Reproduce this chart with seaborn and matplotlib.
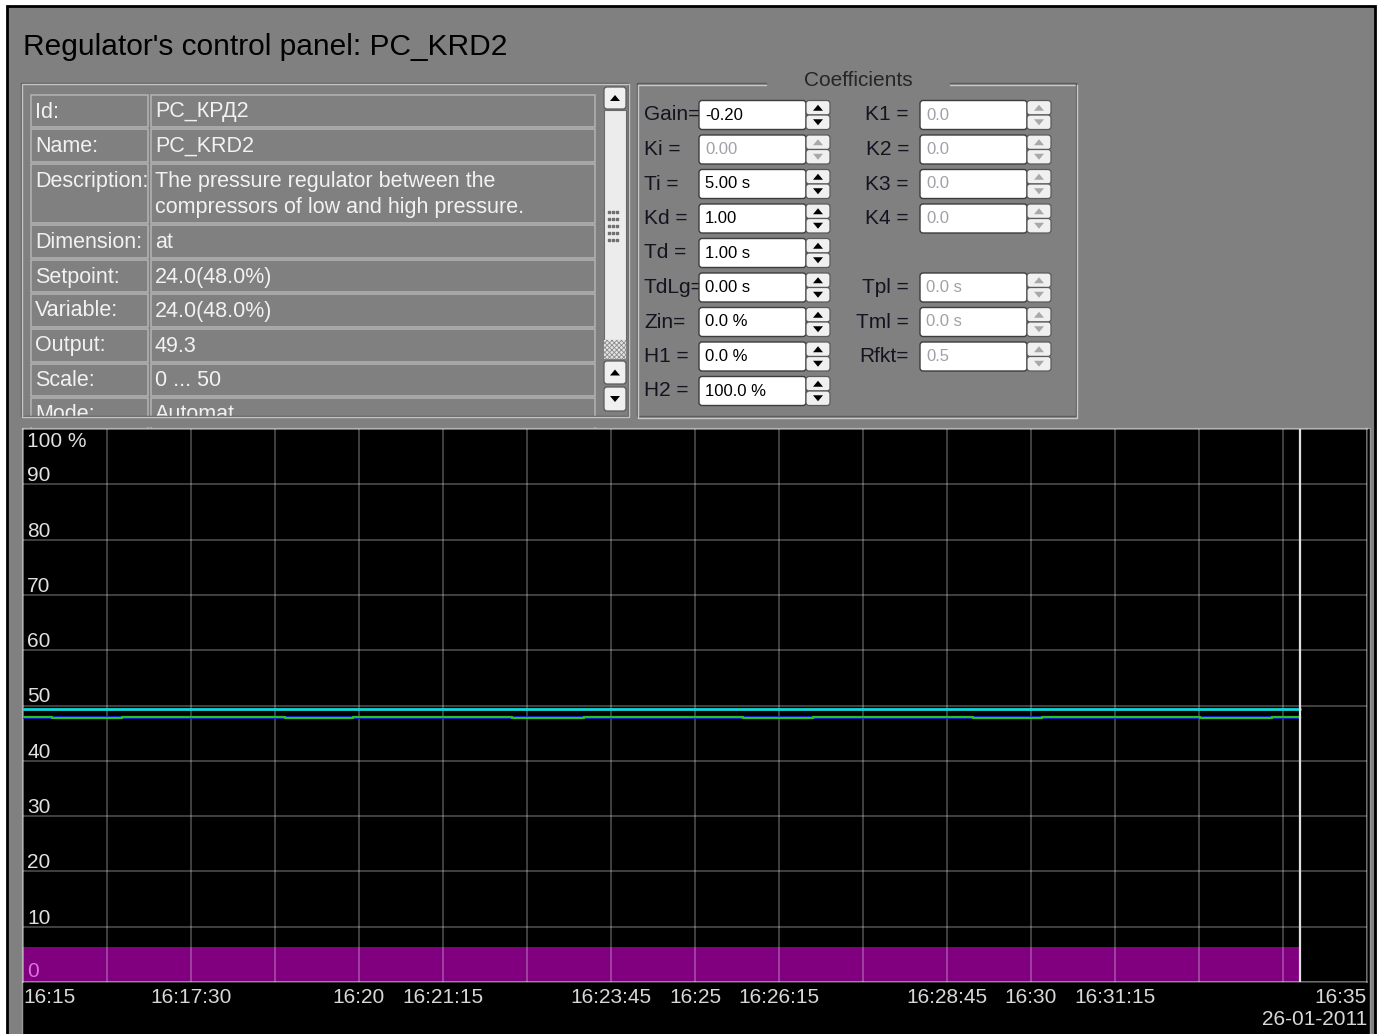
import numpy as np
import pandas as pd
import seaborn as sns
import matplotlib.pyplot as plt
from matplotlib.patches import Rectangle, FancyBboxPatch, Polygon

W, H = 1382, 1034

# ---- chart data ----
day = "2011-01-26 "
x_start, x_end = "16:15:00", "16:35:00"
now_time = "16:34:00"

output_times = ["16:15:00", "16:34:00"]
output_values = [49.3, 49.3]

setpoint_times = ["16:15:00", "16:34:00"]
setpoint_values = [48.0, 48.0]

variable_times = ["16:15:00", "16:15:26", "16:16:28", "16:18:54", "16:19:55",
                  "16:22:17", "16:23:21", "16:25:43", "16:26:45", "16:29:08",
                  "16:30:10", "16:32:31", "16:33:35", "16:34:00"]
variable_values = [48.0, 47.7, 48.0, 47.7, 48.0, 47.7, 48.0, 47.7, 48.0, 47.7,
                   48.0, 47.7, 48.0, 48.0]

band_times = ["16:15:00", "16:34:00"]
band_values = [6.3, 6.3]

tick_times = ["16:15:00", "16:17:30", "16:20:00", "16:21:15", "16:23:45", "16:25:00",
              "16:26:15", "16:28:45", "16:30:00", "16:31:15", "16:35:00"]
tick_labels = ["16:15", "16:17:30", "16:20", "16:21:15", "16:23:45", "16:25",
               "16:26:15", "16:28:45", "16:30", "16:31:15", "16:35\n26-01-2011"]
y_ticks = [0, 10, 20, 30, 40, 50, 60, 70, 80, 90, 100]
y_labels = ["0", "10", "20", "30", "40", "50", "60", "70", "80", "90", "100 %"]

# ---- panel texts ----
title = "Regulator's control panel: PC_KRD2"
info_labels = ["Id:", "Name:", "Description:", "Dimension:", "Setpoint:",
               "Variable:", "Output:", "Scale:", "Mode:"]
info_values = ["PC_КРД2", "PC_KRD2",
               "The pressure regulator between the\ncompressors of low and high pressure.",
               "at", "24.0(48.0%)", "24.0(48.0%)", "49.3", "0 ... 50", "Automat"]

coef_left_labels = ["Gain=", "Ki =", "Ti =", "Kd =", "Td =", "TdLg=", "Zin=", "H1 =", "H2 ="]
coef_left_values = ["-0.20", "0.00", "5.00 s", "1.00", "1.00 s", "0.00 s", "0.0 %", "0.0 %", "100.0 %"]
coef_left_enabled = [True, False, True, True, True, True, True, True, True]
coef_right_labels = ["K1 =", "K2 =", "K3 =", "K4 =", None, "Tpl =", "Tml =", "Rfkt="]
coef_right_values = ["0.0", "0.0", "0.0", "0.0", None, "0.0 s", "0.0 s", "0.5"]

sns.set_style("dark")
plt.rcParams["font.family"] = ["Liberation Sans", "DejaVu Sans"]
plt.rcParams["hatch.linewidth"] = 0.6

fig = plt.figure(figsize=(W / 100, H / 100), dpi=100, facecolor="white")
ui = fig.add_axes([0, 0, 1, 1])
ui.set_xlim(0, W)
ui.set_ylim(H, 0)
ui.axis("off")

# window background
ui.add_patch(Rectangle((7, 6), 1368, 1032, fc="#808080", ec="black", lw=2))
ui.text(23, 55, title, fontsize=21.5, color="black", va="baseline")

# ---- info group ----
rows = [94, 128, 163, 224, 259, 293, 328, 363, 397, 432]
for i, (lab, val) in enumerate(zip(info_labels, info_values)):
    top, bot = rows[i], rows[i + 1]
    ui.add_patch(Rectangle((31, top + 1), 117, bot - top - 2, fill=False, ec="#b4b4b4", lw=1.1))
    ui.add_patch(Rectangle((151, top + 1), 444, bot - top - 2, fill=False, ec="#b4b4b4", lw=1.1))
    ui.text(35, top + 18, lab, fontsize=15.5, color="#f2f2f2", va="center")
    for k, line in enumerate(val.split("\n")):
        ui.text(155, top + 18 + 27 * k, line, fontsize=15.5, color="#f2f2f2", va="center")
# cover the clipped part of the last row
ui.add_patch(Rectangle((23, 416), 606, 11, fc="#808080", ec="none", zorder=3))
ui.add_patch(Rectangle((21, 83), 607, 333, fill=False, ec="#5c5c5c", lw=1, zorder=4))
ui.add_patch(Rectangle((22, 84), 607, 333, fill=False, ec="#c4c4c4", lw=1, zorder=4))


def tri(cx, cy, up, color, s=5):
    d = -1 if up else 1
    ui.add_patch(Polygon([(cx - s, cy - d * s * 0.6), (cx + s, cy - d * s * 0.6), (cx, cy + d * s * 0.6)],
                         closed=True, fc=color, ec="none", zorder=6))


def button(x, y, w, h, up, color="black"):
    ui.add_patch(FancyBboxPatch((x, y), w, h, boxstyle="round,pad=0,rounding_size=3",
                                fc="#f0f0f0", ec="#5a5a5a", lw=0.9, zorder=5))
    tri(x + w / 2, y + h / 2, up, color)


# scrollbar
ui.add_patch(Rectangle((604, 110), 22, 230, fc="#ececec", ec="#6a6a6a", lw=0.8, zorder=4))
ui.add_patch(Rectangle((604, 340), 22, 19, fc="#e4e4e4", ec="#8c8c8c", hatch="xxxxxxx", lw=0, zorder=4))
button(604, 87, 22, 22, True)
button(604, 361, 22, 23, True)
button(604, 387, 22, 24, False)
gx, gy = np.meshgrid([609.5, 613.5, 617.5], [212, 219, 226, 233, 240])
ui.scatter(gx.ravel(), gy.ravel(), s=2, marker="s", color="#707070", zorder=6)

# ---- coefficients group ----
ui.plot([637, 766], [83, 83], color="#5c5c5c", lw=1)
ui.plot([950, 1076], [83, 83], color="#5c5c5c", lw=1)
ui.plot([638, 766], [84.5, 84.5], color="#c8c8c8", lw=1)
ui.plot([950, 1075], [84.5, 84.5], color="#c8c8c8", lw=1)
ui.plot([637, 637, 1076, 1076], [83, 416, 416, 83], color="#5c5c5c", lw=1)
ui.plot([638.5, 638.5, 1077.5, 1077.5], [84.5, 417.5, 417.5, 84.5], color="#c8c8c8", lw=1)
ui.text(858, 80, "Coefficients", fontsize=15, color="#262626", ha="center", va="center")


def spinbox(lx, bx, yc, label, value, enabled, ha="left"):
    ui.text(lx, yc, label, fontsize=15, color="#141420", va="center", ha=ha, zorder=4)
    ui.add_patch(FancyBboxPatch((bx, yc - 14.5), 107, 29, boxstyle="round,pad=0,rounding_size=3",
                                fc="white", ec="#3c3c3c", lw=1, zorder=5))
    ui.text(bx + 6, yc, value, fontsize=12, va="center", zorder=6,
            color="black" if enabled else "#a0a0a8")
    c = "black" if enabled else "#a8a8a8"
    button(bx + 107, yc - 14.5, 24, 14.5, True, c)
    button(bx + 107, yc, 24, 14.5, False, c)


for i, (lab, val, en) in enumerate(zip(coef_left_labels, coef_left_values, coef_left_enabled)):
    spinbox(644, 699, 115 + 34.5 * i, lab, val, en)
for i, (lab, val) in enumerate(zip(coef_right_labels, coef_right_values)):
    if lab is None:
        continue
    spinbox(909, 920, 115 + 34.5 * i, lab, val, False, ha="right")

# ---- trend ----
ui.add_patch(Rectangle((22, 428), 1348, 610, fc="black", ec="#9a9a9a", lw=1))

ax = fig.add_axes([23 / W, 1 - 982 / H, (1367 - 23) / W, (982 - 429) / H], facecolor="black")


def frame(times, values, name):
    return pd.DataFrame({"time": pd.to_datetime([day + t for t in times]), name: values})


band = frame(band_times, band_values, "value")
ax.fill_between(band["time"], 0, band["value"], color="#800080", lw=0, zorder=1)

sns.lineplot(data=frame(output_times, output_values, "value"), x="time", y="value",
             ax=ax, color="#10d8d8", lw=2, zorder=3)
sns.lineplot(data=frame(setpoint_times, setpoint_values, "value"), x="time", y="value",
             ax=ax, color="#1414e6", lw=2, zorder=3)
sns.lineplot(data=frame(variable_times, variable_values, "value"), x="time", y="value",
             ax=ax, color="#22c422", lw=1.6, drawstyle="steps-post", zorder=4)

now = pd.Timestamp(day + now_time)
ax.vlines(now, 0, 100, color="#e0e0e0", lw=1.6, zorder=5)

ax.set_xlim(pd.Timestamp(day + x_start), pd.Timestamp(day + x_end))
ax.set_ylim(0, 100)
ax.set_xticks(pd.to_datetime([day + t for t in tick_times]))
ax.set_xticklabels(tick_labels)
ax.set_xticks(pd.date_range(day + x_start, day + x_end, freq="75s"), minor=True)
ax.set_yticks(y_ticks)
ax.set_yticklabels([])
ax.set_axisbelow("line")
ax.grid(False)
ax.grid(True, which="both", axis="x", color="white", alpha=0.27, lw=1.3)
ax.grid(True, which="major", axis="y", color="white", alpha=0.27, lw=1.3)
ax.tick_params(which="both", length=0, colors="#d8d8d8", labelsize=15, pad=4)
for sp in ax.spines.values():
    sp.set_edgecolor((1, 1, 1, 0.27))
    sp.set_linewidth(1.3)
ax.set_xlabel("")
ax.set_ylabel("")

labels = ax.get_xticklabels()
labels[0].set_horizontalalignment("left")
labels[-1].set_horizontalalignment("right")
labels[-1].set_multialignment("right")
for lab in labels:
    lab.set_color("#d8d8d8")

ytr = ax.get_yaxis_transform()
for v, lab in zip(y_ticks, y_labels):
    if v == 100:
        ax.text(0.003, v - 0.6, lab, transform=ytr, fontsize=15, color="#e0e0e0", va="top")
    elif v == 0:
        ax.text(0.003, v + 0.9, lab, transform=ytr, fontsize=15, color="#e070e0", va="baseline", zorder=6)
    else:
        ax.text(0.003, v + 0.55, lab, transform=ytr, fontsize=15, color="#e0e0e0", va="baseline")

fig.savefig("out.png", dpi=100, facecolor="white")
